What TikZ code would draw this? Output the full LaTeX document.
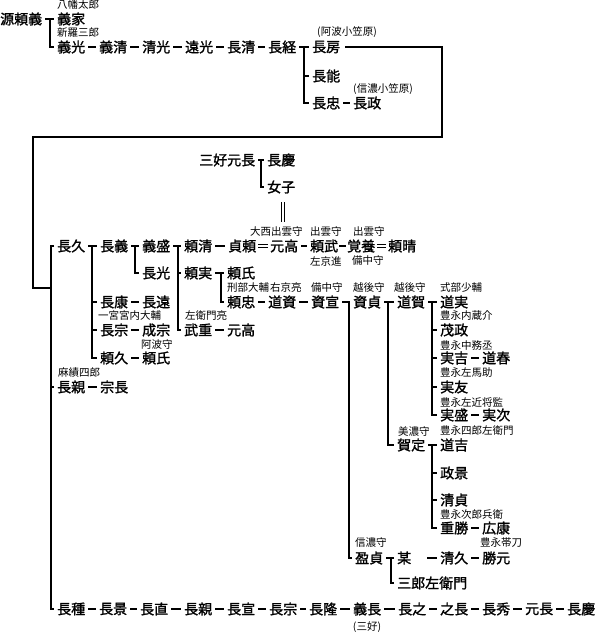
\documentclass[tikz,border=0pt]{standalone}
\usepackage{fontspec}
\setmainfont{Noto Sans CJK JP}
\newfontfamily\namefont[FakeBold=1.5]{Noto Sans CJK JP}
\newfontfamily\labfont{Noto Sans CJK JP}
\begin{document}
\begin{tikzpicture}[x=1pt,y=-1pt,
  nm/.style={anchor=west, inner sep=0pt, font=\namefont\fontsize{14}{14}\selectfont},
  lb/.style={anchor=west, inner sep=0pt, font=\labfont\fontsize{10.5}{10.5}\selectfont},
  ln/.style={line width=2.6pt, line join=miter},
  dsh/.style={ln, shorten <=3pt, shorten >=3pt},
  tick/.style={ln, shorten >=3pt},
  eq/.style={double, double distance=2.4pt, line width=1.2pt, shorten <=2pt, shorten >=2pt}]
\useasboundingbox (0,0) rectangle (599,635);

% ---------- top ----------
\node[nm] (yy) at (0,19) {源頼義};
\node[lb] (lHachiman) at (57,5) {八幡太郎};
\node[nm] (yie) at (57,19) {義家};
\node[lb] (lShinra) at (57,33) {新羅三郎};
\node[nm] (ymt) at (57,47) {義光};
\node[nm] (ykiyo1) at (99,47) {義清};
\node[nm] (kmitsu) at (142,47) {清光};
\node[nm] (tmitsu) at (185,47) {遠光};
\node[nm] (nkiyo) at (227,47) {長清};
\node[nm] (ntsu) at (268,47) {長経};
\node[lb] (lAwaOga) at (317,32) {(阿波小笠原)};
\node[nm] (nfusa) at (312,47) {長房};
\node[nm] (nnori) at (312,76) {長能};
\node[nm] (ntada) at (312,103) {長忠};
\node[lb] (lShinaOga) at (353,89) {(信濃小笠原)};
\node[nm] (nmasa) at (353,103) {長政};

\coordinate (v0) at (50,0);
\coordinate (v1) at (304,0);
\draw[dsh] (yy.east) -- (yie.west);
\draw[tick] (v0 |- yy.east) |- (ymt.west);
\draw[dsh] (ymt.east) -- (ykiyo1.west);
\draw[dsh] (ykiyo1.east) -- (kmitsu.west);
\draw[dsh] (kmitsu.east) -- (tmitsu.west);
\draw[dsh] (tmitsu.east) -- (nkiyo.west);
\draw[dsh] (nkiyo.east) -- (ntsu.west);
\draw[dsh] (ntsu.east) -- (nfusa.west);
\draw[tick] (v1 |- ntsu.east) |- (ntada.west);
\draw[tick] (v1 |- nnori.west) -- (nnori.west);
\draw[dsh] (ntada.east) -- (nmasa.west);

% ---------- box connector ----------
\coordinate (b1) at (442,47);
\coordinate (b2) at (442,137);
\coordinate (b3) at (33,137);
\coordinate (b4) at (33,288);
\coordinate (j0) at (51,288);
\draw[ln, shorten <=5pt] (nfusa.east) -- (b1) -- (b2) -- (b3) -- (b4) -- (j0);

% ---------- miyoshi ----------
\node[nm] (miyoshi) at (199,160) {三好元長};
\node[nm] (chokei) at (267,160) {長慶};
\node[nm] (nyoshi) at (267,187) {女子};
\coordinate (v2) at (261,0);
\draw[dsh] (miyoshi.east) -- (chokei.west);
\draw[tick] (v2 |- miyoshi.east) |- (nyoshi.west);
\coordinate (m1) at (283,202);
\coordinate (m2) at (283,222);
\draw[double, double distance=2.2pt, line width=1.2pt] (m1) -- (m2);

% ---------- main row ----------
\node[lb] (lOnishi) at (250,232) {大西出雲守};
\node[lb] (lIzumo1) at (310,232) {出雲守};
\node[lb] (lIzumo2) at (353,232) {出雲守};
\node[nm] (nhisa) at (57,246) {長久};
\node[nm] (ngi) at (100,246) {長義};
\node[nm] (ymori) at (142,246) {義盛};
\node[nm] (ykiyo) at (184,246) {頼清};
\node[nm] (syori) at (228,246) {貞頼};
\node[nm] (mtaka) at (270,246) {元高};
\node[nm] (ytake) at (310,246) {頼武};
\node[nm] (kakuyo) at (347,246) {覚養};
\node[nm] (yharu) at (388,246) {頼晴};
\node[lb] (lSakyo) at (310,261) {左京進};
\node[lb] (lBitchu1) at (352,261) {備中守};

\node[nm] (nmitsu) at (142,273) {長光};
\node[nm] (yzane) at (184,273) {頼実};
\node[nm] (yuji) at (227,273) {頼氏};

\node[lb] (lGyobu) at (227,288) {刑部大輔};
\node[lb] (lUkyo) at (270,288) {右京亮};
\node[lb] (lBitchu2) at (311,288) {備中守};
\node[lb] (lEchigo1) at (353,288) {越後守};
\node[lb] (lEchigo2) at (394,288) {越後守};
\node[lb] (lShikibu) at (440,288) {式部少輔};

\node[nm] (nyasu) at (100,302) {長康};
\node[nm] (ntoo) at (142,302) {長遠};
\node[nm] (ytada) at (227,302) {頼忠};
\node[nm] (msuke) at (268,302) {道資};
\node[nm] (snobu) at (311,302) {資宣};
\node[nm] (ssada) at (353,302) {資貞};
\node[nm] (dga) at (397,302) {道賀};
\node[nm] (dzane) at (440,302) {道実};

\node[lb] (lIchinomiya) at (98,316) {一宮宮内大輔};
\node[lb] (lSaemon) at (185,316) {左衛門亮};
\node[lb] (lKura) at (440,316) {豊永内蔵介};

\node[nm] (nmune) at (100,330) {長宗};
\node[nm] (nsmune) at (142,330) {成宗};
\node[nm] (tshige) at (184,330) {武重};
\node[nm] (mtaka2) at (227,330) {元高};
\node[nm] (smasa) at (440,330) {茂政};

\node[lb] (lAwa) at (141,345) {阿波守};
\node[lb] (lNaka) at (440,345) {豊永中務丞};

\node[nm] (yhisa) at (100,358) {頼久};
\node[nm] (yuji2) at (142,358) {頼氏};
\node[nm] (szoshi) at (440,358) {実吉};
\node[nm] (dharu) at (482,358) {道春};

\node[lb] (lOmi) at (58,373) {麻績四郎};
\node[lb] (lSama) at (440,373) {豊永左馬助};

\node[nm] (nchika) at (57,387) {長親};
\node[nm] (mnaga) at (100,387) {宗長};
\node[nm] (stomo) at (440,387) {実友};

\node[lb] (lSakon) at (440,402) {豊永左近将監};
\node[nm] (smori) at (440,415) {実盛};
\node[nm] (stsugu) at (482,415) {実次};

\node[lb] (lMino) at (398,431) {美濃守};
\node[lb] (lShiro) at (440,431) {豊永四郎左衛門};
\node[nm] (gtei) at (397,445) {賀定};
\node[nm] (dkichi) at (440,445) {道吉};
\node[nm] (mkage) at (440,473) {政景};
\node[nm] (ksada) at (440,500) {清貞};
\node[lb] (lJiro) at (440,515) {豊永次郎兵衛};
\node[nm] (skatsu) at (440,528) {重勝};
\node[nm] (hyasu) at (482,528) {広康};

\node[lb] (lShinano) at (355,543) {信濃守};
\node[lb] (lTatewaki) at (480,543) {豊永帯刀};
\node[nm] (misada) at (355,558) {盈貞};
\node[nm] (bo) at (397,558) {某};
\node[nm] (khisa) at (440,558) {清久};
\node[nm] (kmoto) at (482,558) {勝元};
\node[nm] (saburo) at (397,583) {三郎左衛門};

% ---------- bottom row ----------
\node[nm] (ntane) at (57,609) {長種};
\node[nm] (nkage) at (99,609) {長景};
\node[nm] (nnao) at (140,609) {長直};
\node[nm] (nchika2) at (184,609) {長親};
\node[nm] (nnobu) at (227,609) {長宣};
\node[nm] (nmune2) at (269,609) {長宗};
\node[nm] (ntaka) at (309,609) {長隆};
\node[nm] (ynaga) at (353,609) {義長};
\node[nm] (nyuki) at (398,609) {長之};
\node[nm] (ynaga2) at (440,609) {之長};
\node[nm] (nhide) at (482,609) {長秀};
\node[nm] (mnaga2) at (525,609) {元長};
\node[nm] (chokei2) at (567,609) {長慶};
\node[lb, anchor=center] (lMiyoshi) at (367,627) {(三好)};

% ---------- connectors ----------
\coordinate (vB) at (51,0);
\coordinate (vA) at (92,0);
\coordinate (vC) at (135,0);
\coordinate (vD) at (178,0);
\coordinate (vE) at (221,0);
\coordinate (vF) at (349,0);
\coordinate (vG) at (388,0);
\coordinate (vH) at (432,0);
\coordinate (vI) at (391,0);

% big vertical
\draw[ln, shorten <=3pt, shorten >=3pt] (nhisa.west) -| (vB |- ntane.west) -- (ntane.west);
\draw[tick] (vB |- nchika.west) -- (nchika.west);

% nagahisa
\draw[dsh] (nhisa.east) -- (ngi.west);
\draw[tick] (vA |- nhisa.east) |- (yhisa.west);
\draw[tick] (vA |- nyasu.west) -- (nyasu.west);
\draw[tick] (vA |- nmune.west) -- (nmune.west);

% nagayoshi
\draw[dsh] (ngi.east) -- (ymori.west);
\draw[tick] (vC |- ngi.east) |- (nmitsu.west);

% yoshimori
\draw[dsh] (ymori.east) -- (ykiyo.west);
\draw[tick] (vD |- ymori.east) |- (tshige.west);
\draw[tick] (vD |- yzane.west) -- (yzane.west);

% yorikiyo line
\draw[dsh] (ykiyo.east) -- (syori.west);
\draw[eq] (syori.east) -- (mtaka.west);
\draw[dsh] (mtaka.east) -- (ytake.west);
\draw[ln, shorten <=1pt, shorten >=1.5pt] (ytake.east) -- (kakuyo.west);
\draw[eq] (kakuyo.east) -- (yharu.west);

% yorizane
\draw[dsh] (yzane.east) -- (yuji.west);
\draw[tick] (vE |- yzane.east) |- (ytada.west);
\draw[dsh] (ytada.east) -- (msuke.west);
\draw[dsh] (msuke.east) -- (snobu.west);

% sukenobu
\draw[dsh] (snobu.east) -- (ssada.west);
\draw[tick] (vF |- snobu.east) |- (misada.west);

% sukesada
\draw[dsh] (ssada.east) -- (dga.west);
\draw[tick] (vG |- ssada.east) |- (gtei.west);

% doga
\draw[dsh] (dga.east) -- (dzane.west);
\draw[tick] (vH |- dga.east) |- (smori.west);
\draw[tick] (vH |- smasa.west) -- (smasa.west);
\draw[tick] (vH |- szoshi.west) -- (szoshi.west);
\draw[tick] (vH |- stomo.west) -- (stomo.west);
\draw[dsh] (szoshi.east) -- (dharu.west);
\draw[dsh] (smori.east) -- (stsugu.west);

% gatei
\draw[dsh] (gtei.east) -- (dkichi.west);
\draw[tick] (vH |- gtei.east) |- (skatsu.west);
\draw[tick] (vH |- mkage.west) -- (mkage.west);
\draw[tick] (vH |- ksada.west) -- (ksada.west);
\draw[dsh] (skatsu.east) -- (hyasu.west);

% misada
\draw[dsh] (misada.east) -- (bo.west);
\draw[tick] (vI |- misada.east) |- (saburo.west);
\draw[ln, shorten <=16pt, shorten >=3pt] (bo.east) -- (khisa.west);
\draw[dsh] (khisa.east) -- (kmoto.west);

% small branches
\draw[dsh] (nyasu.east) -- (ntoo.west);
\draw[dsh] (nmune.east) -- (nsmune.west);
\draw[dsh] (yhisa.east) -- (yuji2.west);
\draw[dsh] (tshige.east) -- (mtaka2.west);
\draw[dsh] (nchika.east) -- (mnaga.west);

% bottom row
\draw[dsh] (ntane.east) -- (nkage.west);
\draw[dsh] (nkage.east) -- (nnao.west);
\draw[dsh] (nnao.east) -- (nchika2.west);
\draw[dsh] (nchika2.east) -- (nnobu.west);
\draw[dsh] (nnobu.east) -- (nmune2.west);
\draw[dsh] (nmune2.east) -- (ntaka.west);
\draw[dsh] (ntaka.east) -- (ynaga.west);
\draw[dsh] (ynaga.east) -- (nyuki.west);
\draw[dsh] (nyuki.east) -- (ynaga2.west);
\draw[dsh] (ynaga2.east) -- (nhide.west);
\draw[dsh] (nhide.east) -- (mnaga2.west);
\draw[dsh] (mnaga2.east) -- (chokei2.west);
\end{tikzpicture}
\end{document}
